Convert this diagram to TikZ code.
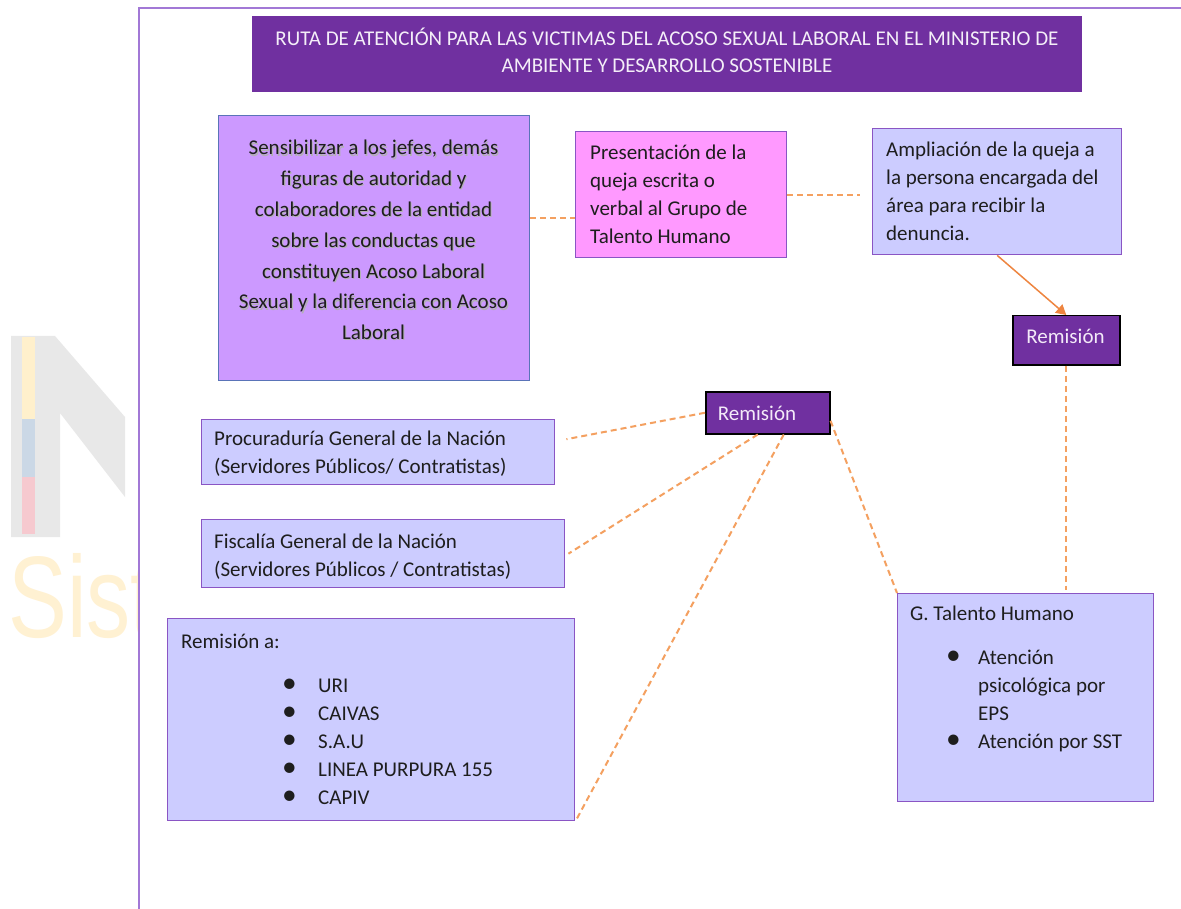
\documentclass[tikz,border=0pt]{standalone}
\usepackage{fontspec}
\setmainfont{Carlito}
\newfontfamily\wmfont{Liberation Sans}
\usetikzlibrary{arrows.meta,calc}
\definecolor{titlepurple}{HTML}{7030A0}
\definecolor{lav}{HTML}{CCCCFF}
\definecolor{lilac}{HTML}{CC99FF}
\definecolor{pinkbox}{HTML}{FF99FF}
\definecolor{boxline}{HTML}{8A55C4}
\definecolor{blueline}{HTML}{5A74B8}
\definecolor{framec}{HTML}{A278D6}
\definecolor{connc}{HTML}{F4A060}
\definecolor{arrc}{HTML}{EE8540}
\definecolor{wmgrey}{HTML}{E8E8E8}
\definecolor{wmyel}{HTML}{FFF1D2}
\definecolor{wmbar1}{HTML}{FFF0CC}
\definecolor{wmbar2}{HTML}{CBD8E6}
\definecolor{wmbar3}{HTML}{F6C9CF}
\definecolor{remtext}{HTML}{F3EAF8}
\definecolor{titletext}{HTML}{F4EEF8}
\definecolor{txtc}{HTML}{1E1E1E}
\newcommand\fsz[2]{\fontsize{#1}{#2}\selectfont}
\newcommand\bul{\smash{\scalebox{1.4}{\textbullet}}}
\newcommand\senstext{Sensibilizar a los jefes, demás\\figuras de autoridad y\\colaboradores de la entidad\\sobre las conductas que\\constituyen Acoso Laboral\\Sexual y la diferencia con Acoso\\Laboral}
\tikzset{
  box/.style={draw=boxline, line width=1.4pt, fill=lav, inner sep=0pt, anchor=north west},
  txt/.style={inner sep=0pt, align=left, anchor=west, text=txtc, font=\fsz{21}{28}},
  rem/.style={draw=black, line width=1.5pt, fill=titlepurple, inner sep=0pt, anchor=north west},
  remlabel/.style={inner sep=0pt, anchor=center, text=remtext, font=\fsz{21}{28}},
  titlebox/.style={fill=titlepurple, inner sep=0pt, anchor=north west},
  titlelabel/.style={inner sep=0pt, anchor=center, text=titletext, align=center, font=\fsz{21}{27}},
  framel/.style={draw=framec, line width=2pt},
  dconn/.style={draw=connc, line width=2pt, dash pattern=on 6pt off 4pt},
  aconn/.style={draw=arrc, line width=1.5pt, -{Triangle[width=11pt,length=10pt]}}
}
\begin{document}
\begin{tikzpicture}[x=1pt,y=-1pt]
\useasboundingbox (0,0) rectangle (1181,909);
\fill[white] (0,0) rectangle (1181,909);
% watermark
\fill[wmgrey] (11,336) -- (55,336) -- (125,417) -- (125,497) -- (60,413) -- (60,537) -- (11,537) -- cycle;
\fill[wmbar1] (22,337) rectangle (35,419);
\fill[wmbar2] (22,419) rectangle (35,477);
\fill[wmbar3] (22,477) rectangle (35,534);
\begin{scope}
\clip (0,540) rectangle (137,660);
\node[anchor=base west, inner sep=0pt, text=wmyel, font=\wmfont\fsz{116}{116}] (wm) at (8,637) {\scalebox{0.76}[1]{Sist}};
\end{scope}
% frame
\draw[framel] (139,909) -- (139,8) -- (1181,8);
% title
\node[titlebox, minimum width=830pt, minimum height=76pt] (title) at (252,16) {};
\node[titlelabel] (titlet) at (667,50.5) {RUTA DE ATENCIÓN PARA LAS VICTIMAS DEL ACOSO SEXUAL LABORAL EN EL MINISTERIO DE\\AMBIENTE Y DESARROLLO SOSTENIBLE};
% boxes
\node[box, fill=lilac, draw=blueline, minimum width=311pt, minimum height=265pt] (sens) at (218,115) {};
\node[txt, align=center, anchor=center, font=\fsz{21}{30.8}, text=black!30] (sensshadow) at (374.6,241.2) {\senstext};
\node[txt, align=center, anchor=center, font=\fsz{21}{30.8}] (senst) at (373.5,240) {\senstext};

\node[box, fill=pinkbox, minimum width=211pt, minimum height=126pt] (pres) at (575,131) {};
\node[txt] (prest) at (590,194.5) {Presentación de la\\queja escrita o\\verbal al Grupo de\\Talento Humano};

\node[box, minimum width=249pt, minimum height=126pt] (amp) at (872,128) {};
\node[txt] (ampt) at (886,191) {Ampliación de la queja a\\la persona encargada del\\área para recibir la\\denuncia.};

\node[rem, minimum width=107pt, minimum height=49pt] (rem1) at (1012,315) {};
\node[remlabel] (rem1t) at (1065.5,336) {Remisión};

\node[rem, minimum width=124pt, minimum height=42pt] (rem2) at (705,391) {};
\node[remlabel] (rem2t) at (757,413) {Remisión};

\node[box, minimum width=353pt, minimum height=65pt] (proc) at (201,419) {};
\node[txt] (proct) at (214,454) {Procuraduría General de la Nación\\(Servidores Públicos/ Contratistas)};

\node[box, minimum width=363pt, minimum height=68pt] (fisc) at (201,519) {};
\node[txt] (fisct) at (214,556.5) {Fiscalía General de la Nación\\(Servidores Públicos / Contratistas)};

\node[box, minimum width=407pt, minimum height=202pt] (rema) at (167,618) {};
\node[txt] (remat) at (181,719.5) {Remisión a:\\[16pt]
\hspace*{101pt}\makebox[36pt][l]{\bul}URI\\
\hspace*{101pt}\makebox[36pt][l]{\bul}CAIVAS\\
\hspace*{101pt}\makebox[36pt][l]{\bul}S.A.U\\
\hspace*{101pt}\makebox[36pt][l]{\bul}LINEA PURPURA 155\\
\hspace*{101pt}\makebox[36pt][l]{\bul}CAPIV};

\node[box, minimum width=256pt, minimum height=208pt] (gth) at (897,593) {};
\node[txt] (gtht) at (910,678.5) {G. Talento Humano\\[16pt]
\hspace*{36pt}\makebox[32pt][l]{\bul}Atención\\
\hspace*{68pt}psicológica por\\
\hspace*{68pt}EPS\\
\hspace*{36pt}\makebox[32pt][l]{\bul}Atención por SST};

% connectors
\draw[dconn] (sens.east |- 0,218) -- (pres.west |- 0,218);
\draw[dconn, shorten >=12pt] (pres.east) -- (pres.east -| amp.west);
\draw[aconn] (amp.south) -- (rem1.north);
\draw[dconn, shorten >=3pt] (rem1.south) -- (rem1.south |- gth.north);
\draw[dconn] (rem2.west) -- ([shift={(11pt,13pt)}]proc.east);
\draw[dconn] ([xshift=-10pt]rem2.south) -- ([xshift=3pt]fisc.east);
\draw[dconn] ([xshift=16pt]rem2.south) -- (rema.south east);
\draw[dconn] ([yshift=-8pt]rem2.east) -- (gth.north west);
\end{tikzpicture}
\end{document}
